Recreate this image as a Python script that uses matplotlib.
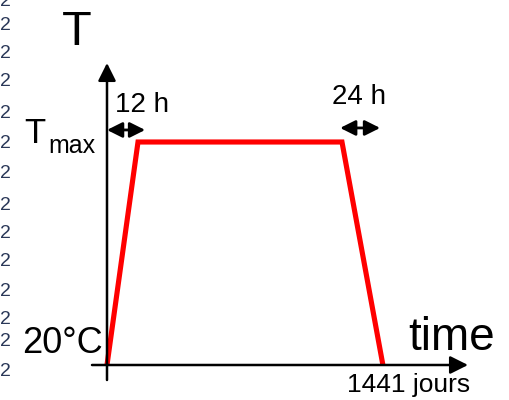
import matplotlib
matplotlib.use("Agg")
import matplotlib.pyplot as plt
from matplotlib.transforms import Affine2D

plt.rcParams["font.family"] = ["Liberation Sans", "DejaVu Sans"]

# Schematic temperature cycle: heat-up ramp, hold at Tmax, cool-down ramp
profile_t = [0.0, 1.0, 7.58, 8.9]      # schematic time units
profile_T = [0.0, 1.0, 1.0, 0.0]       # 0 = 20 °C, 1 = Tmax
ramp_up_label = "12 h"
ramp_down_label = "24 h"
t_end_label = "1441 jours"
T_low_label = "20°C"
x_label = "time"
y_label = "T"

W, H, DPI = 510, 400, 100
fig = plt.figure(figsize=(W / DPI, H / DPI), dpi=DPI)
ax = fig.add_axes([0, 0, 1, 1])
ax.set_axis_off()

# data scale: origin sits at pixel (107, 365); 31 px per time unit, 223 px per T unit
ox, oy, sx, sy = 107, 365, 31.0, 223.0
ax.set_xlim(-ox / sx, (W - ox) / sx)
ax.set_ylim(-(H - oy) / sy, oy / sy)

# pixel transform (origin top-left, y down) for text placement
pix = Affine2D().scale(1 / DPI, -1 / DPI).translate(0, H / DPI) + fig.dpi_scale_trans

# axes with arrow heads
def arrow(x0, y0, x1, y1, style, ms, lw):
    ax.annotate("", xy=(x1, y1), xytext=(x0, y0),
                arrowprops=dict(arrowstyle=style, color="black", lw=lw,
                                mutation_scale=ms, shrinkA=0, shrinkB=0))

arrow(-15 / sx, 0, (468 - ox) / sx, 0, "-|>", 27, 1.8)          # time axis
arrow(0, -15 / sy, 0, (oy - 63) / sy, "-|>", 27, 1.8)           # T axis

# ramp duration markers
arrow(profile_t[0], 1.054, profile_t[1] + 0.23, 1.054, "<|-|>", 23, 2.0)
arrow(profile_t[2] - 0.06, 1.063, profile_t[3] - 0.09, 1.063, "<|-|>", 23, 2.0)

# temperature profile
ax.plot(profile_t, profile_T, color="#ff0000", lw=3.7,
        solid_joinstyle="miter", solid_capstyle="butt")

# labels
fig.text(77, 45, y_label, transform=pix, fontsize=35, ha="center", va="baseline")
fig.text(24, 143, "T", transform=pix, fontsize=25, ha="left", va="baseline")
fig.text(48, 153, "max", transform=pix, fontsize=18, ha="left", va="baseline")
fig.text(115, 112, ramp_up_label, transform=pix, fontsize=20, ha="left", va="baseline")
fig.text(332, 104, ramp_down_label, transform=pix, fontsize=20, ha="left", va="baseline")
fig.text(103, 353, T_low_label, transform=pix, fontsize=26, ha="right", va="baseline")
fig.text(408, 350, x_label, transform=pix, fontsize=33, ha="left", va="baseline")
fig.text(347, 392, t_end_label, transform=pix, fontsize=19, ha="left", va="baseline")

# margin numbering column
for yy in [2, 26, 54, 81, 114, 144, 173, 205, 233, 262, 292, 320, 342, 372]:
    fig.text(0, yy, "2", transform=pix, fontsize=14, color="#2a3858",
             ha="left", va="center")

fig.savefig("out.png", dpi=DPI)
